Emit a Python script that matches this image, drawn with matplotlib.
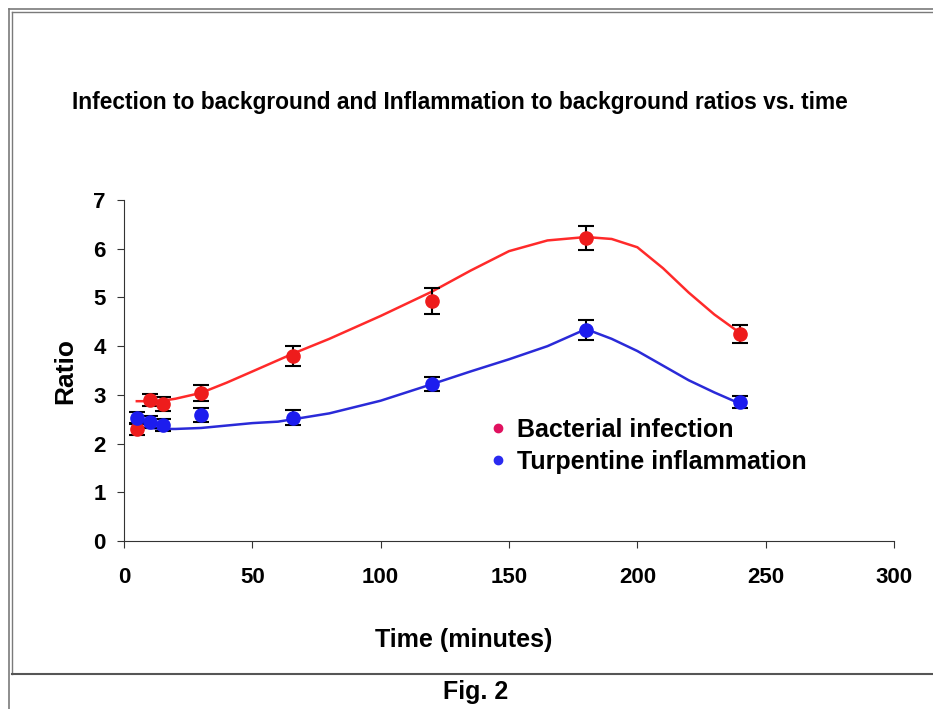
import matplotlib.pyplot as plt
from matplotlib.lines import Line2D

plt.rcParams['font.family'] = ['Liberation Sans', 'DejaVu Sans']
plt.rcParams['font.weight'] = 'bold'

# measured points (time in minutes)
times = [5, 10, 15, 30, 66, 120, 180, 240]
infection = [2.30, 2.90, 2.81, 3.04, 3.80, 4.93, 6.22, 4.25]
infection_err = [0.12, 0.12, 0.14, 0.17, 0.20, 0.27, 0.25, 0.19]
inflammation = [2.53, 2.44, 2.38, 2.59, 2.53, 3.22, 4.33, 2.85]
inflammation_err = [0.12, 0.12, 0.12, 0.14, 0.15, 0.14, 0.20, 0.13]

# trend curves
infection_fit_t = [5, 10, 15, 20, 30, 40, 50, 66, 80, 100, 120, 135, 150, 165,
                   180, 190, 200, 210, 220, 230, 240]
infection_fit = [2.87, 2.87, 2.88, 2.92, 3.04, 3.25, 3.48, 3.85, 4.15, 4.62,
                 5.12, 5.55, 5.95, 6.17, 6.24, 6.20, 6.03, 5.60, 5.10, 4.65, 4.27]
inflammation_fit_t = [5, 10, 15, 20, 30, 40, 50, 60, 66, 80, 100, 120, 135,
                      150, 165, 180, 190, 200, 210, 220, 230, 240]
inflammation_fit = [2.33, 2.32, 2.30, 2.30, 2.32, 2.37, 2.42, 2.45, 2.50, 2.62,
                    2.88, 3.22, 3.48, 3.73, 4.00, 4.35, 4.15, 3.90, 3.60, 3.30,
                    3.05, 2.82]

red = '#ee1c1c'
blue = '#1c1cee'
W, H = 933, 709

fig = plt.figure(figsize=(9.33, 7.09), dpi=100)
ax = fig.add_axes([124 / W, 1 - 541 / H, 770 / W, 341 / H])

ax.plot(infection_fit_t, infection_fit, color='#ff2a2a', lw=1.8, zorder=2)
ax.plot(inflammation_fit_t, inflammation_fit, color='#2a2ad8', lw=1.8, zorder=2)

ax.errorbar(times, infection, yerr=infection_err, fmt='o', color=red,
            ms=9.5, ecolor='black', elinewidth=1.5, capsize=6, capthick=1.5, zorder=3)
ax.errorbar(times, inflammation, yerr=inflammation_err, fmt='o', color=blue,
            ms=9.5, ecolor='black', elinewidth=1.5, capsize=6, capthick=1.5, zorder=3)

ax.set_xlim(0, 300)
ax.set_ylim(0, 7)
ax.set_xticks(range(0, 301, 50))
ax.set_yticks(range(0, 8))
for s in ['top', 'right']:
    ax.spines[s].set_visible(False)
ax.spines['left'].set_color('#333333')
ax.spines['bottom'].set_color('#333333')
ax.tick_params(axis='both', labelsize=16, length=5, color='#333333')
ax.tick_params(axis='x', direction='out', pad=14)
ax.tick_params(axis='y', direction='out', pad=8)
for lab in ax.get_xticklabels() + ax.get_yticklabels():
    lab.set_fontweight('bold')

ax.set_ylabel('Ratio', fontsize=19, fontweight='bold', labelpad=12)

fig.text(464 / W, 1 - 640 / H, 'Time (minutes)', ha='center', va='center',
         fontsize=18, fontweight='bold')
fig.text(460 / W, 1 - 103 / H,
         'Infection to background and Inflammation to background ratios vs. time',
         ha='center', va='center', fontsize=16.4, fontweight='bold')
fig.text(476 / W, 1 - 692 / H, 'Fig. 2', ha='center', va='center',
         fontsize=18, fontweight='bold')

handles = [Line2D([], [], ls='none', marker='o', color='#e0115f', ms=6),
           Line2D([], [], ls='none', marker='o', color='#2a2af0', ms=6)]
ax.legend(handles, ['Bacterial infection', 'Turpentine inflammation'],
          loc='center left', bbox_to_anchor=(0.476, 0.280), frameon=False,
          fontsize=18, handlelength=0.6, handletextpad=0.46, labelspacing=0.32,
          borderpad=0, borderaxespad=0)

# chart frame
gray = '#7a7a7a'
fig.add_artist(Line2D([9 / W, 9 / W], [0, 1 - 9 / H], color=gray, lw=1.2))
fig.add_artist(Line2D([9 / W, 1], [1 - 9 / H, 1 - 9 / H], color=gray, lw=1.2))
fig.add_artist(Line2D([12 / W, 12 / W], [1 - 674 / H, 1 - 12 / H], color=gray, lw=1))
fig.add_artist(Line2D([12 / W, 1], [1 - 12 / H, 1 - 12 / H], color=gray, lw=1))
fig.add_artist(Line2D([12 / W, 1], [1 - 674 / H, 1 - 674 / H], color='#555555', lw=1.5))

fig.savefig('out.png', dpi=100)
